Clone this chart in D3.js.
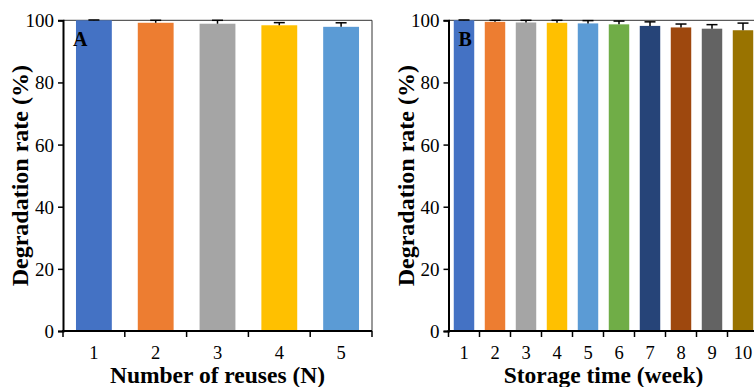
<!DOCTYPE html>
<html>
<head>
<meta charset="utf-8">
<script src="https://cdn.jsdelivr.net/npm/d3@7"></script>
<style>
  html, body { margin: 0; padding: 0; background: #fff; }
  svg { display: block; }
  text { font-family: "Liberation Serif", "Times New Roman", serif; fill: #000; }
</style>
</head>
<body>
<svg id="chart" width="754" height="387"></svg>
<script>
// Panel A: degradation after repeated reuse
const reuseCategories = ["1", "2", "3", "4", "5"];
const reuseValues = [100, 99.2, 98.9, 98.4, 97.9];
const reuseErrors = [0.1, 0.8, 1.1, 0.85, 1.3];
const reuseColors = ["#4472C4", "#ED7D31", "#A5A5A5", "#FFC000", "#5B9BD5"];

// Panel B: degradation after storage
const storageCategories = ["1", "2", "3", "4", "5", "6", "7", "8", "9", "10"];
const storageValues = [100, 99.5, 99.3, 99.2, 99.0, 98.7, 98.2, 97.7, 97.3, 96.8];
const storageErrors = [0.1, 0.5, 0.7, 0.8, 0.9, 1.05, 1.3, 1.1, 1.3, 2.3];
const storageColors = ["#4472C4", "#ED7D31", "#A5A5A5", "#FFC000", "#5B9BD5",
                       "#70AD47", "#264478", "#9E480E", "#636363", "#997300"];

const yTicks = [0, 20, 40, 60, 80, 100];

const svg = d3.select("#chart");

function drawPanel(opt) {
  const g = svg.append("g");
  const x = d3.scaleBand().domain(opt.categories).range([opt.left, opt.right]).padding(0);
  const y = d3.scaleLinear().domain([0, 100]).range([opt.bottom, opt.top]);
  const bw = x.bandwidth() * opt.barFrac;

  // frame (top and right edges)
  g.append("line").attr("x1", opt.left).attr("x2", opt.right)
    .attr("y1", y(100)).attr("y2", y(100)).attr("stroke", "#333").attr("stroke-width", 1);
  g.append("line").attr("x1", opt.right).attr("x2", opt.right)
    .attr("y1", y(100)).attr("y2", y(0)).attr("stroke", "#333").attr("stroke-width", 1);

  const data = opt.categories.map((c, i) => ({ c, v: opt.values[i], e: opt.errors[i], col: opt.colors[i] }));

  // bars
  g.selectAll("rect.bar").data(data).enter().append("rect")
    .attr("class", "bar")
    .attr("x", d => x(d.c) + (x.bandwidth() - bw) / 2)
    .attr("width", bw)
    .attr("y", d => y(d.v))
    .attr("height", d => y(0) - y(d.v))
    .attr("fill", d => d.col);

  // upper error bars
  const eb = g.selectAll("g.err").data(data).enter().append("g").attr("class", "err");
  eb.append("line")
    .attr("x1", d => x(d.c) + x.bandwidth() / 2).attr("x2", d => x(d.c) + x.bandwidth() / 2)
    .attr("y1", d => y(d.v)).attr("y2", d => y(d.v + d.e))
    .attr("stroke", "#000").attr("stroke-width", 1.5);
  eb.append("line")
    .attr("x1", d => x(d.c) + x.bandwidth() / 2 - 5.5).attr("x2", d => x(d.c) + x.bandwidth() / 2 + 5.5)
    .attr("y1", d => y(d.v + d.e)).attr("y2", d => y(d.v + d.e))
    .attr("stroke", "#000").attr("stroke-width", 1.5);

  // y axis
  const yAxis = g.append("g").attr("transform", `translate(${opt.left},0)`)
    .call(d3.axisLeft(y).tickValues(yTicks).tickSize(5).tickPadding(4));
  yAxis.select(".domain").attr("stroke", "#000").attr("stroke-width", 2);
  yAxis.selectAll(".tick line").attr("stroke", "#000").attr("stroke-width", 1.5);
  yAxis.selectAll(".tick text").style("font-family", "Liberation Serif").style("font-size", "19px")
    .attr("fill", "#000").attr("dy", "0.34em");

  // x axis with ticks at category boundaries
  const xAxisG = g.append("g").attr("transform", `translate(0,${opt.bottom})`);
  xAxisG.append("line").attr("x1", opt.left - 1).attr("x2", opt.right)
    .attr("stroke", "#000").attr("stroke-width", 2);
  const bounds = opt.categories.map(c => x(c)).concat([opt.right]);
  xAxisG.selectAll("line.tk").data(bounds).enter().append("line")
    .attr("class", "tk").attr("x1", d => d).attr("x2", d => d)
    .attr("y1", 0).attr("y2", 6).attr("stroke", "#000").attr("stroke-width", 1.5);
  xAxisG.selectAll("text.lbl").data(opt.categories).enter().append("text")
    .attr("class", "lbl")
    .attr("x", d => x(d) + x.bandwidth() / 2)
    .attr("y", 27.5)
    .attr("text-anchor", "middle")
    .style("font-size", "18.5px")
    .text(d => d);

  // axis titles
  g.append("text")
    .attr("x", (opt.left + opt.right) / 2).attr("y", 383)
    .attr("text-anchor", "middle")
    .style("font-size", "23.5px").style("font-weight", "bold")
    .text(opt.xTitle);
  g.append("text")
    .attr("transform", `translate(${opt.left - 35},${(opt.top + opt.bottom) / 2}) rotate(-90)`)
    .attr("text-anchor", "middle")
    .style("font-size", "24px").style("font-weight", "bold")
    .text("Degradation rate (%)");

  // panel letter
  g.append("text")
    .attr("x", opt.left + 10).attr("y", 46)
    .style("font-size", "20px").style("font-weight", "bold")
    .text(opt.letter);
}

drawPanel({
  categories: reuseCategories, values: reuseValues, errors: reuseErrors, colors: reuseColors,
  left: 63, right: 372, top: 20.3, bottom: 331, barFrac: 0.58,
  xTitle: "Number of reuses (N)", letter: "A"
});

drawPanel({
  categories: storageCategories, values: storageValues, errors: storageErrors, colors: storageColors,
  left: 448.5, right: 758.5, top: 20.3, bottom: 331, barFrac: 0.66,
  xTitle: "Storage time (week)", letter: "B"
});
</script>
</body>
</html>
